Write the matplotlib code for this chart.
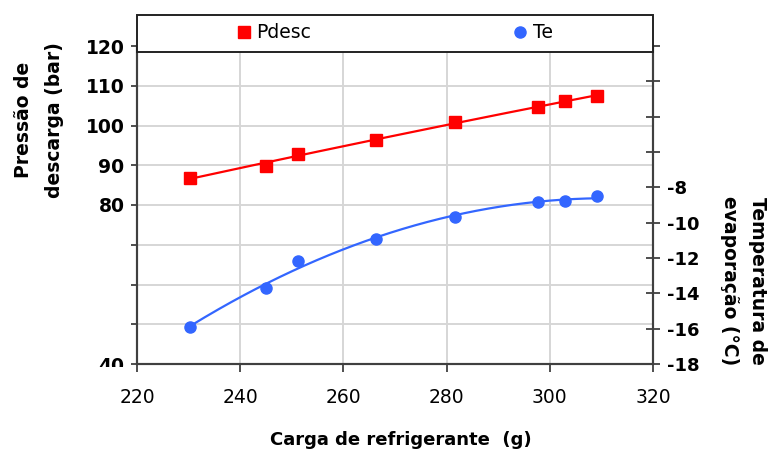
import numpy as np
import matplotlib
matplotlib.use("Agg")
import matplotlib.pyplot as plt
from matplotlib.patches import Rectangle
from matplotlib.lines import Line2D
from matplotlib.transforms import Bbox, TransformedBbox

# ---- data ----
carga = [230.3, 245.0, 251.2, 266.3, 281.6, 297.7, 302.9, 309.1]
pdesc = [86.9, 89.9, 92.8, 96.3, 100.9, 104.7, 106.2, 107.4]
te = [-15.9, -13.7, -12.15, -10.9, -9.7, -8.83, -8.77, -8.5]

x_ticks = [220, 240, 260, 280, 300, 320]
left_ticks = [40, 50, 60, 70, 80, 90, 100, 110, 120]
left_labels = ['40', '', '', '', '80', '90', '100', '110', '120']
right_ticks = [-18, -16, -14, -12, -10, -8, -6, -4, -2, 0]
right_labels = ['-18', '-16', '-14', '-12', '-10', '-8', '', '', '', '']

RED = '#FF0000'
BLUE = '#3366FF'
SPINE = '#404040'

fig = plt.figure(figsize=(7.69, 4.53), dpi=100)
W, H = 769, 453
ax = fig.add_axes([137 / W, 1 - 364 / H, (653 - 137) / W, (364 - 46) / H])
ax.set_xlim(220, 320)
ax.set_ylim(40, 120)
ax.set_axisbelow(True)
ax.grid(True, color='#d6d6d6', lw=1.4)

ax.set_xticks(x_ticks)
ax.set_xticklabels([str(v) for v in x_ticks], fontsize=13.5)
ax.set_yticks(left_ticks)
ax.set_yticklabels(left_labels, fontsize=13.5, fontweight='bold')
ax.tick_params(axis='x', direction='out', length=6, width=1.3, color=SPINE, pad=11)
ax.tick_params(axis='y', direction='out', length=4, width=1.3, color=SPINE, pad=5)

ax2 = ax.twinx()
ax2.set_ylim(-18, 0)
ax2.set_yticks(right_ticks)
ax2.set_yticklabels(right_labels, fontsize=13, fontweight='bold')
ax2.tick_params(axis='y', direction='inout', length=10, width=1.3, color=SPINE, pad=5)

for a in (ax, ax2):
    a.spines['top'].set_visible(False)
    for s in ('left', 'right', 'bottom'):
        a.spines[s].set_color(SPINE)
        a.spines[s].set_linewidth(1.5)

# Pdesc series with trendline
cx = np.linspace(min(carga), max(carga), 200)
pp = np.polyfit(carga, pdesc, 2)
ax.plot(cx, np.polyval(pp, cx), color=RED, lw=1.6, zorder=3)
ax.plot(carga, pdesc, ls='none', marker='s', ms=9, color=RED, zorder=4, clip_on=False)

# Te series with trendline
pt = np.polyfit(carga, te, 2)
ax2.plot(cx, np.polyval(pt, cx), color=BLUE, lw=1.6, zorder=3)
ax2.plot(carga, te, ls='none', marker='o', ms=8, color=BLUE, zorder=4, clip_on=False)

# clip the lowest left tick label as in the reference
fig.canvas.draw()
lab40 = ax.get_yticklabels()[0]
lab40.set_clip_box(TransformedBbox(Bbox([[0, 1 - 367 / H], [1, 1]]), fig.transFigure))
lab40.set_clip_on(True)

# legend box on top
fig.add_artist(Rectangle((137 / W, 1 - 52 / H), (653 - 137) / W, 37 / H,
                         transform=fig.transFigure, facecolor='white',
                         edgecolor='#222222', lw=1.4, zorder=3))
h1 = Line2D([], [], ls='none', marker='s', ms=9, color=RED)
h2 = Line2D([], [], ls='none', marker='o', ms=8, color=BLUE)
leg1 = fig.legend([h1], ['Pdesc'], loc='center left', bbox_to_anchor=(236 / W, 1 - 33 / H),
                  frameon=False, fontsize=13.5, handlelength=0.8, handletextpad=0.3,
                  borderpad=0, borderaxespad=0)
leg2 = fig.legend([h2], ['Te'], loc='center left', bbox_to_anchor=(512 / W, 1 - 33 / H),
                  frameon=False, fontsize=13.5, handlelength=0.8, handletextpad=0.3,
                  borderpad=0, borderaxespad=0)
leg1.set_zorder(5)
leg2.set_zorder(5)

# axis labels
fig.text(39 / W, 1 - 120 / H, 'Pressão de\ndescarga (bar)', rotation=90,
         ha='center', va='center', fontsize=13.5, fontweight='bold', linespacing=1.75,
         multialignment='center')
fig.text(743 / W, 1 - 281 / H, 'Temperatura de\nevaporação (°C)', rotation=-90,
         ha='center', va='center', fontsize=13.5, fontweight='bold', linespacing=1.6,
         multialignment='center')
fig.text(401 / W, 1 - 440 / H, 'Carga de refrigerante  (g)', ha='center', va='center',
         fontsize=13, fontweight='bold')

fig.savefig('out.png', dpi=100)
